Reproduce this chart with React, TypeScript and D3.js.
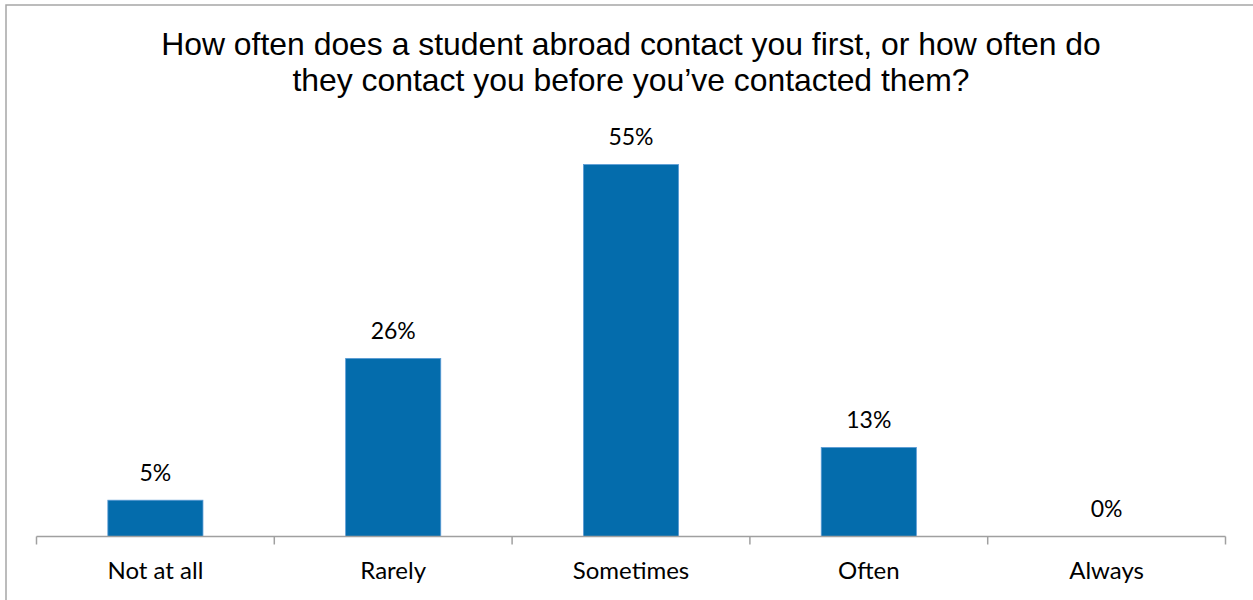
import React from "react";
import * as d3 from "d3";

const categories = ["Not at all", "Rarely", "Sometimes", "Often", "Always"];
const values = [5.3, 26, 54.3, 13, 0];
const valueLabels = ["5%", "26%", "55%", "13%", "0%"];
const titleLines = [
  "How often does a student abroad contact you first, or how often do",
  "they contact you before you\u2019ve contacted them?",
];

const W = 1253;
const H = 600;
const left = 36.5;
const right = 1225.5;
const baseY = 536.5;
const plotTop = 125.5;

export default function App() {
  const x = d3.scaleBand<string>().domain(categories).range([left, right]).paddingInner(0.6).paddingOuter(0.3);
  const y = d3.scaleLinear().domain([0, 60]).range([baseY, plotTop]);
  const tickX = d3.scaleLinear().domain([0, categories.length]).range([left, right]);
  const ticks = d3.range(categories.length + 1);
  const labelFont = "Lato, 'Open Sans', sans-serif";
  return (
    <svg width={W} height={H} style={{ position: "absolute", left: 0, top: 0 }}>
      <rect x={0} y={0} width={W} height={H} fill="#fff" />
      <rect x={6} y={5} width={W + 10} height={H + 10} fill="none" stroke="#a6a6a6" strokeWidth={1.5} />
      {titleLines.map((t, i) => (
        <text key={i} x={631} y={55 + i * 36} textAnchor="middle" fontFamily="'Liberation Sans', Arial, sans-serif" fontSize={31.9} fill="#000">
          {t}
        </text>
      ))}
      {categories.map((c, i) => {
        const bx = x(c)!;
        const by = y(values[i]);
        const h = baseY - by;
        return (
          <g key={c}>
            {h > 0 && (
              <rect x={bx} y={by} width={x.bandwidth()} height={h} fill="#046cac" stroke="#5b9bd5" strokeWidth={0.8} />
            )}
            <text x={bx + x.bandwidth() / 2} y={by - 19.5} textAnchor="middle" fontFamily={labelFont} fontSize={23} fill="#000">
              {valueLabels[i]}
            </text>
            <text x={bx + x.bandwidth() / 2} y={579} textAnchor="middle" fontFamily={labelFont} fontSize={24} fill="#000">
              {c}
            </text>
          </g>
        );
      })}
      <line x1={left} x2={right} y1={baseY} y2={baseY} stroke="#a0a0a0" strokeWidth={1.5} />
      {ticks.map((t) => (
        <line key={t} x1={tickX(t)} x2={tickX(t)} y1={baseY} y2={baseY + 8} stroke="#a0a0a0" strokeWidth={1.5} />
      ))}
    </svg>
  );
}
